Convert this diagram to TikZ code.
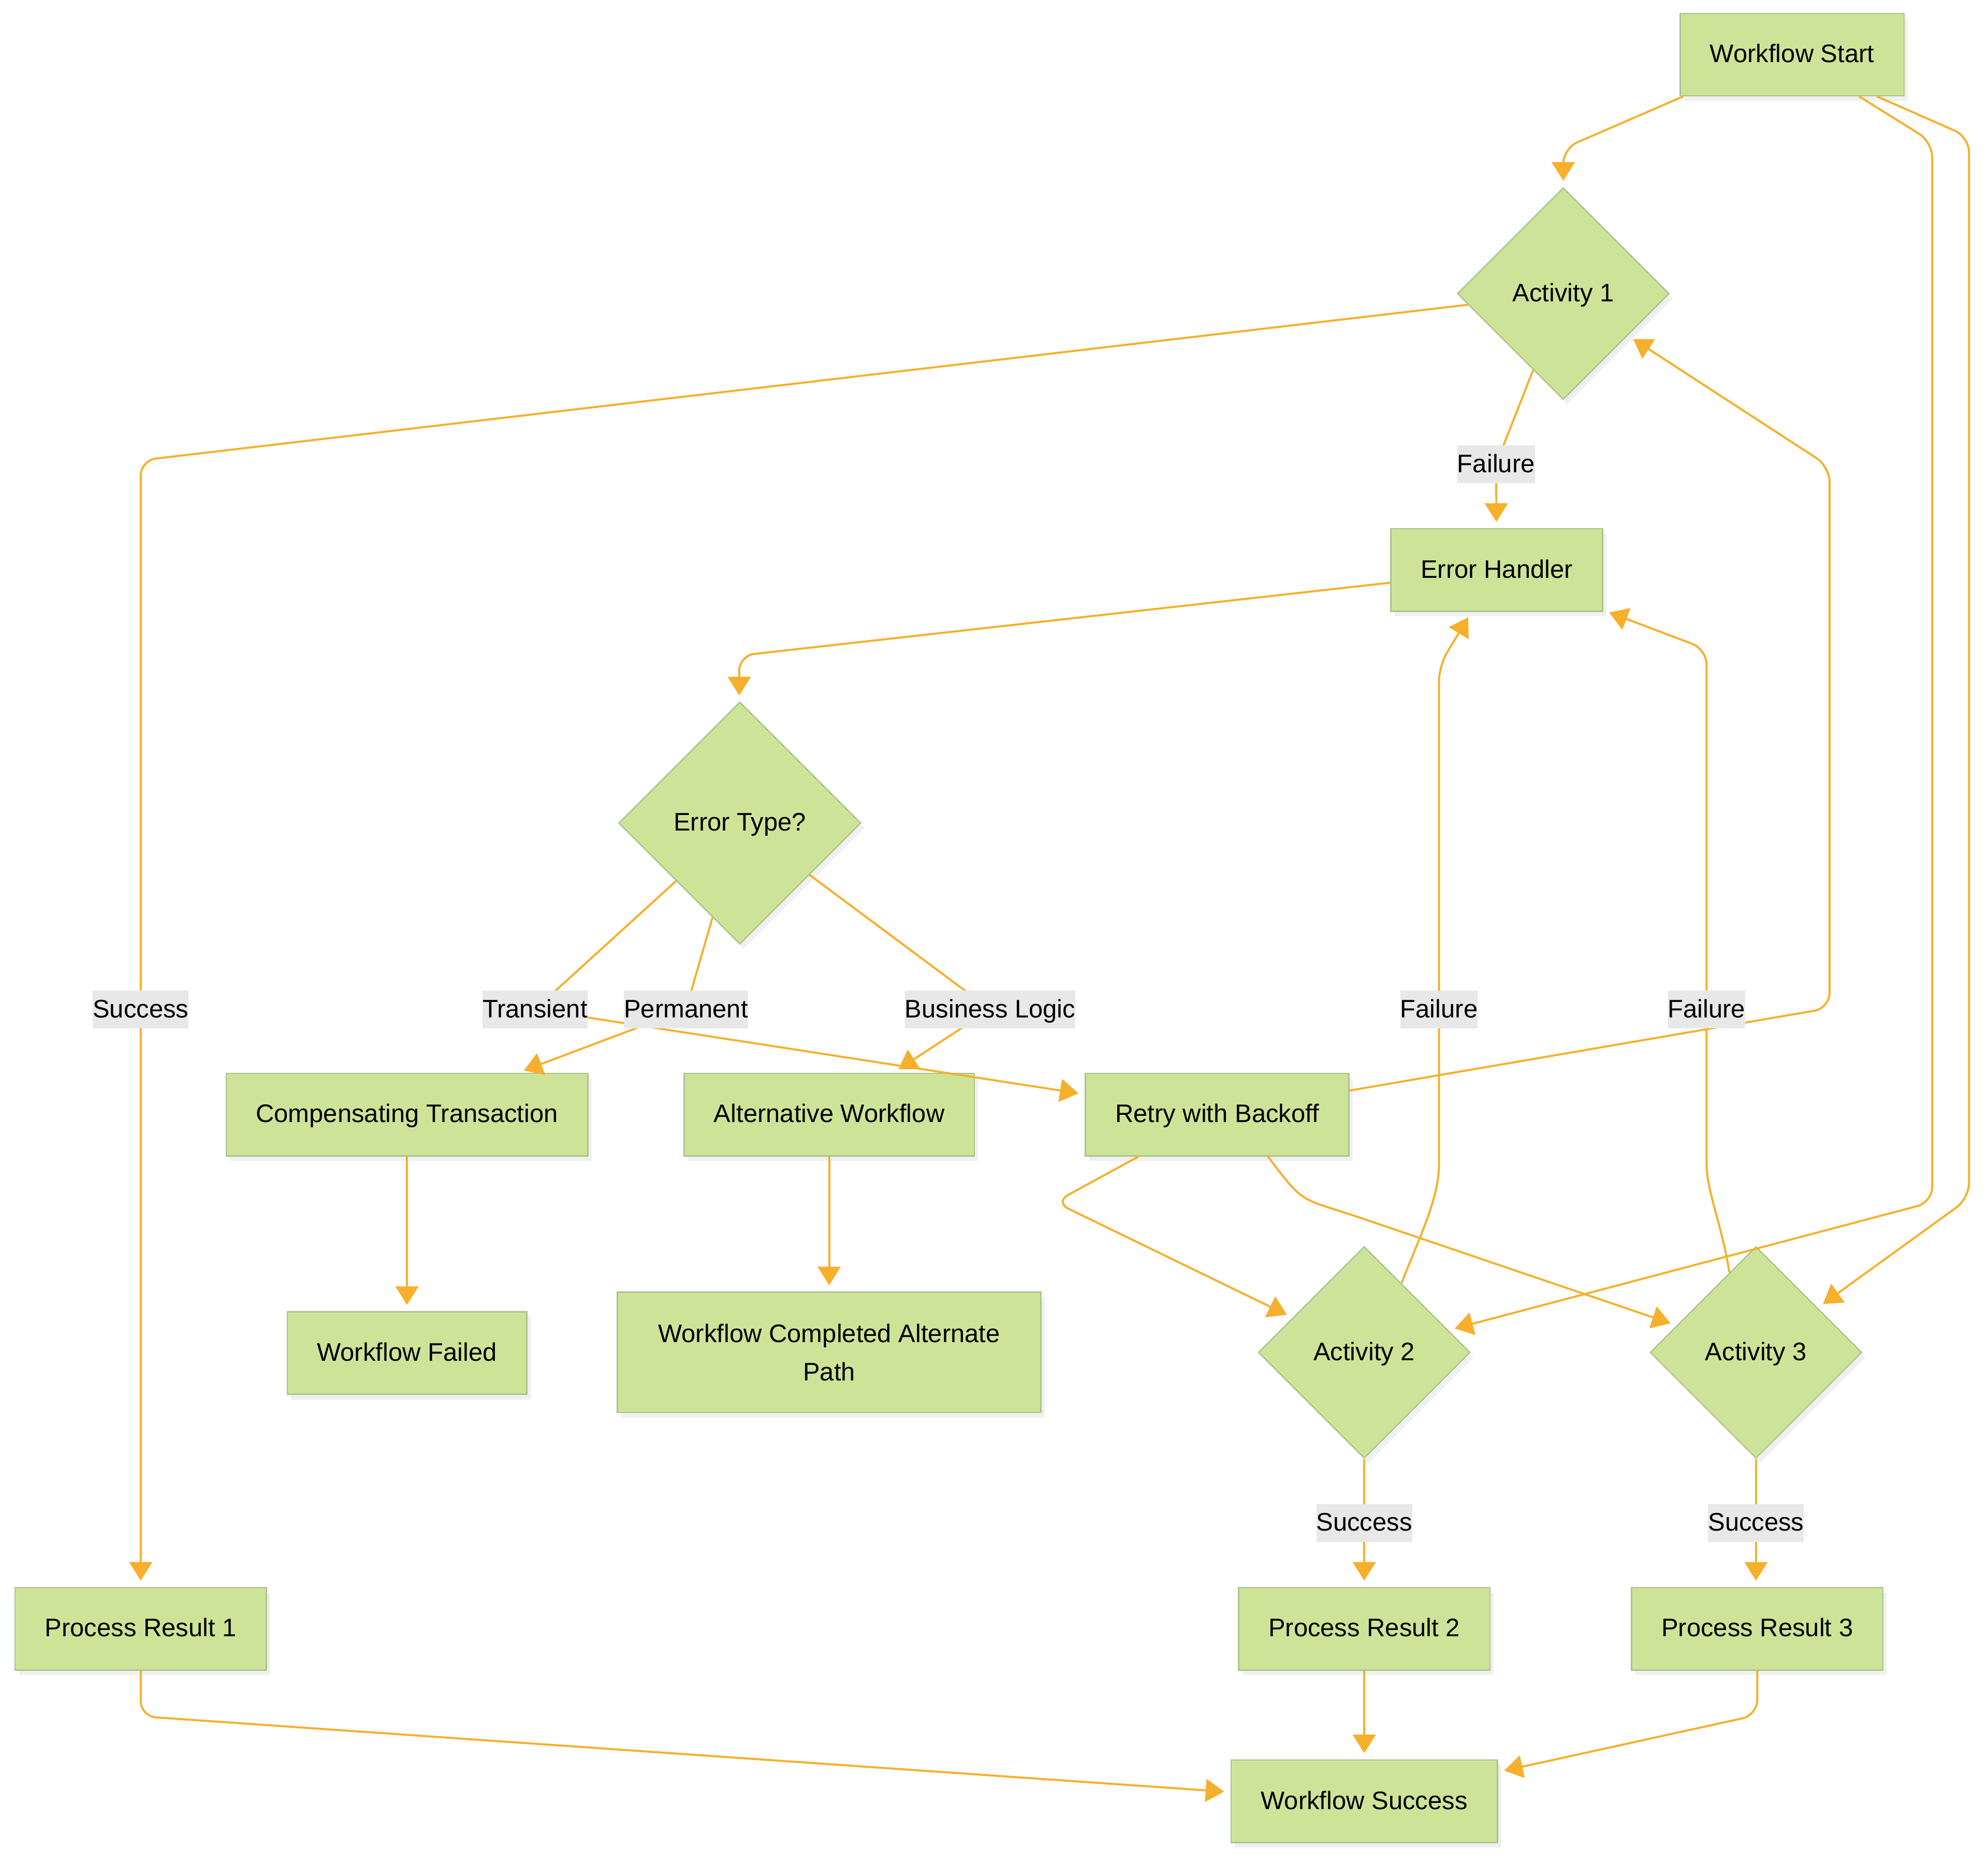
\documentclass[tikz,border=0pt]{standalone}
\usepackage{fontspec}
\setmainfont{Liberation Sans}
\usetikzlibrary{shapes.geometric,arrows.meta,calc,shadows}
\definecolor{nodefill}{HTML}{CDE498}
\definecolor{nodeline}{HTML}{A9C48C}
\definecolor{edgecol}{HTML}{F6B02B}
\definecolor{lblbg}{HTML}{E8E8E8}
\begin{document}
\begin{tikzpicture}[x=0.5pt,y=-0.5pt,
  font=\fontsize{10}{15}\selectfont,
  base/.style={fill=nodefill, draw=nodeline, line width=0.5pt,
    drop shadow={opacity=0.12, shadow xshift=1.5pt, shadow yshift=-2pt}},
  box/.style={base, rectangle, minimum height=32.5pt, inner xsep=11.75pt, inner ysep=0pt,
    text height=8.7pt, text depth=2.5pt},
  dia/.style={base, diamond, minimum width=83.5pt, minimum height=83.5pt, inner sep=0pt,
    text height=8.7pt, text depth=2.5pt},
  lbl/.style={fill=lblbg, inner xsep=0pt, inner ysep=1pt, text height=9.7pt, text depth=3.3pt},
  edge/.style={draw=edgecol, line width=0.8pt, -{Triangle[length=7.3pt,width=9pt]},
    shorten >=2.5pt, rounded corners=6pt}
]
\useasboundingbox (0,0) rectangle (1568,1468.8);

% nodes
\node[box] (ws) at (1413.5,43) {Workflow Start};
\node[dia] (a1) at (1233,231.5) {Activity 1};
\node[box] (eh) at (1180.5,449.5) {Error Handler};
\node[dia, minimum width=95.5pt, minimum height=95.5pt] (et) at (583.5,649) {Error Type?};
\node[box] (comp) at (321,879) {Compensating Transaction};
\node[box] (alt) at (654,879) {Alternative Workflow};
\node[box] (retry) at (960,879) {Retry with Backoff};
\node[box] (failed) at (321,1067) {Workflow Failed};
\node[base, rectangle, inner xsep=11.75pt, align=center, minimum width=167pt, minimum height=47.5pt] (wcap) at (654,1066.5) {Workflow Completed Alternate\\Path};
\node[dia] (a2) at (1076,1066.5) {Activity 2};
\node[dia] (a3) at (1385,1066.5) {Activity 3};
\node[box] (pr1) at (111,1284.5) {Process Result 1};
\node[box] (pr2) at (1076,1284.5) {Process Result 2};
\node[box] (pr3) at (1386,1284.5) {Process Result 3};
\node[box] (wsucc) at (1076,1420.5) {Workflow Success};

% edges
\draw[edge] ([xshift=1.5pt]ws.south west) -- (1233,117) -- (a1);
\draw[edge] ([xshift=-18pt]ws.south east) -- (1524,112) -- (1524,948) -- (a2);
\draw[edge] ([xshift=-11pt]ws.south east) -- (1553,108) -- (1553,945) -- (a3);
\draw[edge] (a1) -- (111,363) -- (pr1);
\draw[edge] (a1) -- (1180,366) -- (eh);
\draw[edge] ([yshift=-5pt]eh.west) -- (583,517) -- (et);
\draw[edge] (et) -- (422,796) -- (retry);
\draw[edge] (et) -- (541,796) -- (comp);
\draw[edge] (et) -- (781,796) -- (alt);
\draw[edge] ([yshift=9.5pt]retry.east) -- (1443,795) -- (1443,368) -- (a1);
\draw[edge] ([xshift=-31pt]retry.south) -- (832,948) -- (a2);
\draw[edge] ([xshift=20pt]retry.south) .. controls (1025,945) .. (1066,958) -- (a3);
\draw[edge] ($(a2.north)!0.35!(a2.east)$) .. controls (1121,972) and (1135,945) .. (1135,905) -- (1135,525) -- (eh);
\draw[edge] ($(a3.north)!0.25!(a3.west)$) .. controls (1358,965) and (1346,940) .. (1346,905) -- (1346,512) -- (eh);
\draw[edge] (a2) -- (pr2);
\draw[edge] (a3.south) -- (a3.south |- pr3.north);
\draw[edge] (comp) -- (failed);
\draw[edge] (alt) -- (wcap);
\draw[edge] (pr1.south) -- ++(0,36) -- (wsucc);
\draw[edge] (pr2) -- (wsucc);
\draw[edge] (pr3.south) -- ++(0,35) -- (wsucc);

% edge labels
\node[lbl] (l1) at (111,796) {Success};
\node[lbl] (l2) at (1180,366) {Failure};
\node[lbl] (l3) at (422,796) {Transient};
\node[lbl] (l4) at (541,796) {Permanent};
\node[lbl] (l5) at (781,796) {Business Logic};
\node[lbl] (l6) at (1135,796) {Failure};
\node[lbl] (l7) at (1346,796) {Failure};
\node[lbl] (l8) at (1076,1201) {Success};
\node[lbl] (l9) at (1385,1201) {Success};
\end{tikzpicture}
\end{document}
